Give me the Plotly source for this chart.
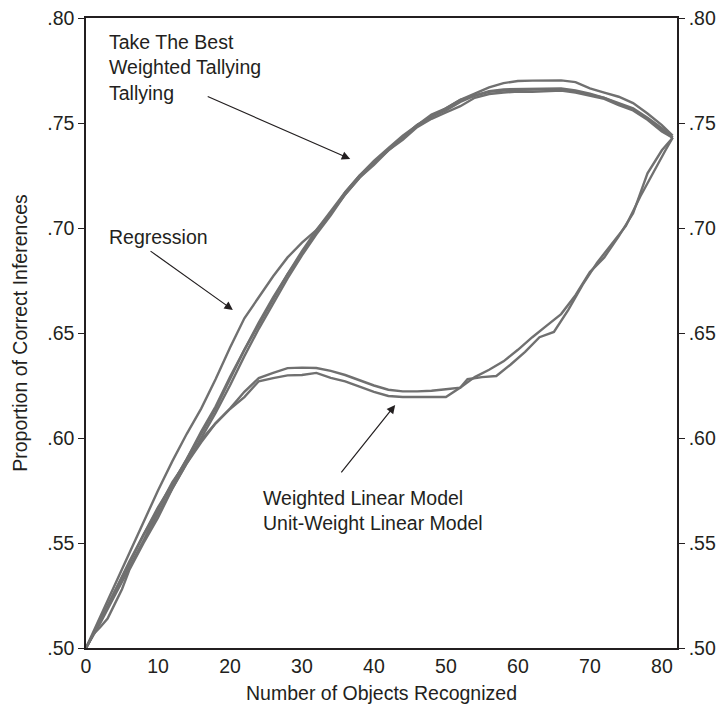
import plotly.graph_objects as go

# ---- data ----
x_reg = [0, 2, 4, 6, 8, 10, 12, 14, 16, 18, 20, 22, 24, 26, 28, 30, 32, 34, 36, 38, 40,
         42, 44, 46, 48, 50, 52, 54, 56, 58, 60, 62, 64, 66, 68, 70, 72, 74, 76, 78, 80, 81.5]
regression = [.500, .515, .530, .545, .560, .575, .589, .602, .614, .628, .643, .657, .667, .677,
              .686, .693, .699, .707, .716, .724, .731, .737, .743, .749, .753, .757, .761, .764,
              .767, .769, .7700, .7702, .7703, .7703, .7695, .7665, .7645, .7625, .7595, .7545,
              .749, .744]
take_the_best = [.500, .513, .527, .540, .554, .566, .578, .590, .602, .614, .628, .642, .654, .666,
                 .678, .688, .698, .707, .717, .725, .731, .737, .743, .749, .753, .756, .760, .763,
                 .7648, .7655, .7658, .7658, .766, .766, .765, .7635, .762, .759, .7565, .752, .747, .743]
weighted_tallying = [.500, .513, .527, .541, .554, .567, .578, .590, .603, .615, .629, .642, .655, .667,
                     .678, .689, .699, .708, .717, .725, .732, .738, .744, .749, .754, .757, .761, .763,
                     .7652, .766, .7662, .7662, .7665, .7665, .7655, .764, .762, .7595, .757, .7525, .7475, .743]
tallying = [.500, .512, .525, .538, .551, .564, .576, .588, .600, .612, .625, .639, .652, .664,
            .676, .687, .697, .706, .716, .724, .730, .737, .742, .748, .752, .755, .758, .762,
            .7638, .7645, .765, .7648, .7652, .7655, .7645, .763, .7615, .7585, .756, .7515, .746, .743]

x_lin_w = [0, 2, 4, 6, 8, 10, 12, 14, 16, 18, 20, 22, 24, 26, 28, 30, 32, 34, 36, 38, 40, 42,
           44, 46, 48, 50, 52, 53, 54, 56, 58, 60, 62, 64, 66, 68, 70, 72, 74, 76, 78, 80, 81.5]
weighted_linear = [.500, .513, .526, .538, .551, .566, .579, .589, .599, .607, .614, .622, .6285,
                   .631, .6333, .6335, .6333, .632, .630, .6275, .625, .623, .6222, .6222, .6225,
                   .6232, .624, .6265, .629, .6325, .6365, .642, .648, .6535, .659, .668, .679,
                   .686, .696, .707, .726, .737, .743]

x_lin_u = [0, 1, 2, 3, 4, 5, 6, 8, 10, 12, 14, 16, 18, 20, 22, 24, 26, 28, 30, 32, 34, 36, 38,
           40, 42, 44, 46, 48, 50, 52, 53, 55, 57, 59, 61, 63, 65, 67, 69, 71, 73, 75, 77, 79,
           80.5, 81.5]
unit_weight_linear = [.500, .5065, .510, .514, .521, .528, .537, .550, .562, .576, .588, .598,
                      .607, .6138, .6195, .627, .6285, .6298, .630, .631, .6286, .627, .6245,
                      .622, .620, .6195, .6195, .6195, .6195, .624, .628, .629, .6295, .635,
                      .641, .648, .6505, .661, .673, .6835, .692, .701, .715, .728, .737, .743]

y_tick_vals = [.50, .55, .60, .65, .70, .75, .80]
y_tick_text = [".50", ".55", ".60", ".65", ".70", ".75", ".80"]
x_tick_vals = [0, 10, 20, 30, 40, 50, 60, 70, 80]

LINE = "#707070"
INK = "#231f20"
FONT = "Liberation Sans, Arial, sans-serif"
FS = 19.5

fig = go.Figure()
series = [
    ("Regression", x_reg, regression),
    ("Take The Best", x_reg, take_the_best),
    ("Weighted Tallying", x_reg, weighted_tallying),
    ("Tallying", x_reg, tallying),
    ("Weighted Linear Model", x_lin_w, weighted_linear),
    ("Unit-Weight Linear Model", x_lin_u, unit_weight_linear),
]
for name, xs, ys in series:
    fig.add_trace(go.Scatter(x=xs, y=ys, mode="lines", name=name,
                             line=dict(color=LINE, width=2.4), showlegend=False))
# invisible trace to anchor the right axis
fig.add_trace(go.Scatter(x=[0], y=[.5], yaxis="y2", mode="markers",
                         marker=dict(opacity=0), showlegend=False, hoverinfo="skip"))

axis_common = dict(showgrid=False, zeroline=False, linecolor=INK, linewidth=1.5,
                   automargin=False,
                   tickfont=dict(family=FONT, size=FS, color=INK))

fig.update_layout(
    width=718, height=711,
    margin=dict(l=86, r=41, t=18, b=63, autoexpand=False),
    paper_bgcolor="white", plot_bgcolor="white",
    font=dict(family=FONT, size=FS, color=INK),
    xaxis=dict(range=[0, 82.1], tickvals=x_tick_vals, ticks="", mirror=True, showline=True,
               title=dict(text="Number of Objects Recognized", standoff=10,
                          font=dict(family=FONT, size=FS, color=INK)),
               **axis_common),
    yaxis=dict(range=[.50, .80], tickvals=y_tick_vals, ticktext=y_tick_text, ticks="outside",
               ticklen=6, tickwidth=1.3, tickcolor=INK, showline=True,
               title=dict(text="Proportion of Correct Inferences", standoff=14,
                          font=dict(family=FONT, size=FS, color=INK)),
               **axis_common),
    yaxis2=dict(range=[.50, .80], tickvals=y_tick_vals, ticktext=y_tick_text, ticks="outside",
                ticklen=6, tickwidth=1.3, tickcolor=INK, showline=True, overlaying="y",
                side="right", **axis_common),
)

# text labels
fig.add_annotation(x=2.9, y=.7763, xref="x", yref="y", xanchor="left", yanchor="middle",
                   align="left", showarrow=False,
                   text="Take The Best<br>Weighted Tallying<br>Tallying",
                   font=dict(family=FONT, size=FS, color=INK))
fig.add_annotation(x=2.9, y=.6957, xref="x", yref="y", xanchor="left", yanchor="middle",
                   align="left", showarrow=False, text="Regression",
                   font=dict(family=FONT, size=FS, color=INK))
fig.add_annotation(x=24.3, y=.5657, xref="x", yref="y", xanchor="left", yanchor="middle",
                   align="left", showarrow=False,
                   text="Weighted Linear Model<br>Unit-Weight Linear Model",
                   font=dict(family=FONT, size=FS, color=INK))

# arrows
arrows = [
    (16.7, .7629, 36.7, .7329),
    (8.76, .6895, 20.4, .6610),
    (35.3, .5829, 42.95, .6157),
]
for ax_, ay_, x_, y_ in arrows:
    fig.add_annotation(x=x_, y=y_, ax=ax_, ay=ay_, xref="x", yref="y", axref="x", ayref="y",
                       text="", showarrow=True, arrowhead=2, arrowsize=1.4, arrowwidth=1.2,
                       arrowcolor=INK, standoff=0, startstandoff=0)

fig.write_html("out.html")
